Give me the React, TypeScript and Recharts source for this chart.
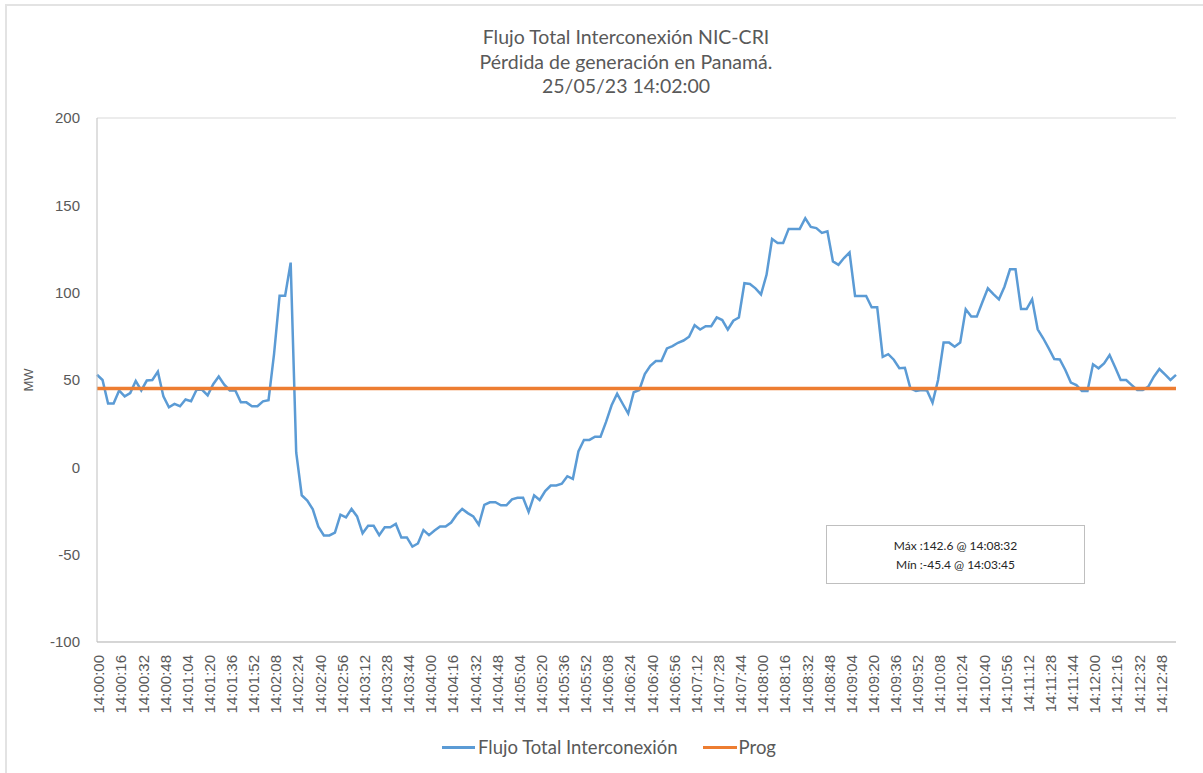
import React from "react";
import { LineChart, Line, XAxis, YAxis, CartesianGrid } from "recharts";

// 4-second samples, 14:00:00 .. 14:13:00
const flujo = [
  53, 50, 36.5, 36.5, 44, 40.6, 42.5, 49.5, 44, 49.7, 50, 54.8, 40.6, 34.4, 36.3, 35,
  38.8, 37.8, 44.4, 44.4, 41.2, 47.6, 52, 47.3, 44, 44, 37.2, 37.2, 35, 35, 37.8, 38.4,
  65, 98.3, 98.3, 117.2, 8.5, -16, -19, -24, -34, -39, -39, -37.4, -27.1, -28.7, -23.8, -28.1,
  -37.8, -33.5, -33.5, -38.8, -34.3, -34.3, -32.4, -40.1, -40.1, -45.4, -43.6, -35.9, -38.8, -36.2, -33.9, -33.9,
  -31.6, -27.1, -23.8, -26.2, -28.1, -32.9, -21.5, -20, -20, -21.7, -21.7, -18.3, -17.4, -17.4, -25.5, -16,
  -18.7, -13.6, -10.4, -10.4, -9.4, -5.1, -6.6, 9.1, 15.7, 15.7, 17.5, 17.5, 26, 35.5, 42.1, 36.4,
  30.8, 43, 44.3, 53.4, 58.1, 60.9, 60.9, 68.1, 69.4, 71.3, 72.6, 74.8, 81.4, 78.9, 80.8, 80.8,
  85.8, 84.3, 78.9, 83.9, 85.8, 105.4, 105, 102.5, 99, 110.2, 130.7, 128.4, 128.4, 136.5, 136.5, 136.5,
  142.6, 137.6, 137, 134.2, 135.1, 117.9, 115.9, 119.8, 123, 98.1, 98.1, 98.1, 91.6, 91.6, 63.3, 64.8,
  61.6, 56.8, 57, 45.2, 43.7, 44.3, 44, 37, 50, 71.4, 71.4, 69.1, 71.4, 90.5, 86.3, 86.3,
  94.5, 102.5, 99.2, 96.2, 103.4, 113.4, 113.4, 90.6, 90.6, 96.2, 79, 73.9, 68.1, 62, 61.8, 55.7,
  48.5, 47.1, 43.7, 43.7, 59, 56.7, 59.5, 64.3, 57.3, 50, 50, 47.1, 44.3, 44.3, 46.2, 51.9,
  56.3, 53.2, 50, 52.9,
];
const PROG = 45.2;

const yTicks = [-100, -50, 0, 50, 100, 150, 200];

const pad = (n: number) => String(n).padStart(2, "0");
const times = flujo.map((_, i) => {
  const s = i * 4;
  return `14:${pad(Math.floor(s / 60))}:${pad(s % 60)}`;
});

const data = flujo.map((v, i) => ({ time: times[i], flujo: v, prog: PROG }));

const GRAY = "#595959";
const BLUE = "#5B9BD5";
const ORANGE = "#ED7D31";

const TimeTick = (props: any) => {
  const { x, y, payload } = props;
  return (
    <text
      x={x + 2}
      y={y}
      transform={`rotate(-90, ${x + 2}, ${y})`}
      textAnchor="end"
      dy="0.35em"
      fill={GRAY}
      fontSize={15}
      fontFamily="'Liberation Sans', Arial, sans-serif"
    >
      {payload.value}
    </text>
  );
};

export default function App() {
  return (
    <div
      style={{
        position: "absolute",
        left: 0,
        top: 0,
        width: 1203,
        height: 773,
        overflow: "hidden",
        background: "#fff",
      }}
    >
      {/* chart frame */}
      <div
        style={{
          position: "absolute",
          left: 5,
          top: 4,
          width: 1400,
          height: 1000,
          border: "2px solid #e3e3e3",
        }}
      />
      <div
        style={{
          position: "absolute",
          left: 0,
          width: 1252,
          top: 25,
          textAlign: "center",
          color: GRAY,
          fontFamily: "Lato, 'Open Sans', sans-serif",
          fontSize: 19.5,
          lineHeight: "24.5px",
        }}
      >
        <div>Flujo Total Interconexión NIC-CRI</div>
        <div>Pérdida de generación en Panamá.</div>
        <div>25/05/23 14:02:00</div>
      </div>

      <div style={{ position: "absolute", left: 0, top: 0 }}>
        <LineChart
          width={1203}
          height={773}
          data={data}
          margin={{ top: 118, right: 27, left: 0, bottom: 51 }}
        >
          <CartesianGrid vertical={false} stroke="#d9d9d9" strokeWidth={1} />
          <XAxis
            dataKey="time"
            interval={3}
            height={80}
            tick={<TimeTick />}
            tickLine={false}
            tickSize={0}
            tickMargin={13}
            axisLine={{ stroke: "#bfbfbf" }}
          />
          <YAxis
            yAxisId="left"
            width={97}
            domain={[-100, 200]}
            ticks={yTicks}
            interval={0}
            tickLine={false}
            tickSize={0}
            tickMargin={17}
            axisLine={{ stroke: "#bfbfbf" }}
            tick={{ fill: GRAY, fontSize: 15, fontFamily: "'Liberation Sans', Arial, sans-serif" }}
            label={{
              value: "MW",
              angle: -90,
              position: "insideLeft",
              offset: 28,
              style: { textAnchor: "middle", fill: GRAY, fontSize: 13, fontFamily: "'Liberation Sans', Arial, sans-serif" },
            }}
          />
          <YAxis
            yAxisId="right"
            orientation="right"
            width={0}
            domain={[-100, 200]}
            tick={false}
            tickLine={false}
            axisLine={{ stroke: "#d9d9d9" }}
          />
          <Line
            yAxisId="left"
            type="linear"
            dataKey="flujo"
            stroke={BLUE}
            strokeWidth={2.5}
            dot={false}
            isAnimationActive={false}
          />
          <Line
            yAxisId="left"
            type="linear"
            dataKey="prog"
            stroke={ORANGE}
            strokeWidth={3.5}
            dot={false}
            isAnimationActive={false}
          />
        </LineChart>
      </div>

      {/* Max/min annotation */}
      <div
        style={{
          position: "absolute",
          left: 826,
          top: 525,
          width: 259,
          height: 59,
          boxSizing: "border-box",
          border: "1px solid #bfbfbf",
          background: "#fff",
          color: "#262626",
          fontFamily: "Lato, 'Open Sans', sans-serif",
          fontSize: 12,
          lineHeight: "19px",
          textAlign: "center",
          paddingTop: 10,
        }}
      >
        <div>Máx :142.6 @ 14:08:32</div>
        <div>Mín :-45.4 @ 14:03:45</div>
      </div>

      {/* legend */}
      <div
        style={{
          position: "absolute",
          left: 0,
          width: 1218,
          top: 736,
          display: "flex",
          justifyContent: "center",
          alignItems: "center",
          color: GRAY,
          fontFamily: "Lato, 'Open Sans', sans-serif",
          fontSize: 18.5,
        }}
      >
        <span style={{ display: "inline-block", width: 33, height: 3, background: BLUE }} />
        <span style={{ marginLeft: 3 }}>Flujo Total Interconexión</span>
        <span style={{ display: "inline-block", width: 34, height: 3, background: ORANGE, marginLeft: 25 }} />
        <span style={{ marginLeft: 2 }}>Prog</span>
      </div>
    </div>
  );
}
